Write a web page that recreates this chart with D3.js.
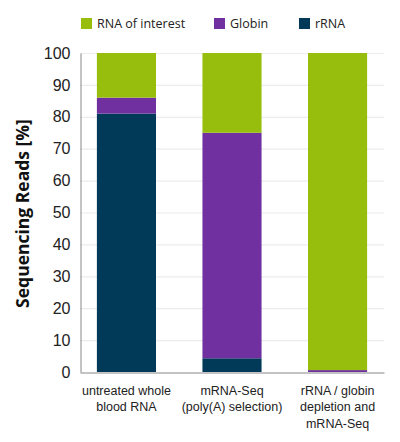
<!DOCTYPE html>
<html>
<head>
<meta charset="utf-8">
<script src="https://cdn.jsdelivr.net/npm/d3@7"></script>
<style>
  body { margin: 0; background: #fff; }
  svg { display: block; font-family: "Open Sans", "Noto Sans", sans-serif; }
</style>
</head>
<body>
<div id="viz"></div>
<script>
// chart data
const categories = [
    ["untreated whole", "blood RNA"],
    ["mRNA-Seq", "(poly(A) selection)"],
    ["rRNA / globin", "depletion and", "mRNA-Seq"]
];
const seriesNames = ["rRNA", "Globin", "RNA of interest"];
const rRNA = [81, 4.3, 0];
const globin = [5, 70.7, 0.6];
const rnaOfInterest = [14, 25, 99.4];
const yTicks = [0, 10, 20, 30, 40, 50, 60, 70, 80, 90, 100];

const colors = { "rRNA": "#003a58", "Globin": "#7030a0", "RNA of interest": "#97be0d" };
const legendOrder = ["RNA of interest", "Globin", "rRNA"];

const width = 400, height = 442;
const margin = { top: 53, right: 16, bottom: 70, left: 80 };

const svg = d3.select("#viz").append("svg")
    .attr("width", width)
    .attr("height", height);

const rows = categories.map((c, i) => ({
    key: i,
    "rRNA": rRNA[i],
    "Globin": globin[i],
    "RNA of interest": rnaOfInterest[i]
}));

const x = d3.scaleBand()
    .domain(rows.map(d => d.key))
    .range([margin.left, width - margin.right])
    .paddingInner(0.44)
    .paddingOuter(0.16);

const y = d3.scaleLinear()
    .domain([0, 100])
    .range([height - margin.bottom, margin.top]);

// grid lines
svg.append("g")
    .selectAll("line")
    .data(yTicks.slice(1))
    .join("line")
    .attr("x1", margin.left)
    .attr("x2", width - margin.right)
    .attr("y1", d => y(d) + 0.5)
    .attr("y2", d => y(d) + 0.5)
    .attr("stroke", "#ececec")
    .attr("stroke-width", 1.2);

// stacked bars
const stack = d3.stack().keys(seriesNames)(rows);

svg.append("g")
    .selectAll("g")
    .data(stack)
    .join("g")
    .attr("fill", d => colors[d.key])
    .selectAll("rect")
    .data(d => d)
    .join("rect")
    .attr("x", d => x(d.data.key))
    .attr("width", x.bandwidth())
    .attr("y", d => y(d[1]))
    .attr("height", d => y(d[0]) - y(d[1]));

// y axis
const yAxis = svg.append("g")
    .attr("transform", `translate(${margin.left + 0.5},0)`)
    .call(d3.axisLeft(y).tickValues(yTicks).tickSize(0).tickPadding(10));
yAxis.select(".domain").attr("stroke", "#888");
yAxis.selectAll("text")
    .attr("font-size", 16)
    .attr("fill", "#222");

// x axis
const xAxis = svg.append("g")
    .attr("transform", `translate(0,${y(0) + 0.5})`)
    .call(d3.axisBottom(x).tickSize(0).tickFormat(""));
xAxis.select(".domain").attr("stroke", "#888");

xAxis.selectAll(".tick text").remove();
xAxis.selectAll(".tick")
    .append("text")
    .attr("fill", "#222")
    .attr("font-size", 12.5)
    .attr("text-anchor", "middle")
    .selectAll("tspan")
    .data(d => categories[d])
    .join("tspan")
    .attr("x", 0)
    .attr("y", (d, i) => 22 + i * 16.5)
    .text(d => d);

// y title
svg.append("text")
    .attr("transform", `translate(29,${(y(0) + y(100)) / 2 + 1}) rotate(-90)`)
    .attr("text-anchor", "middle")
    .attr("font-size", 17.5)
    .attr("font-weight", "bold")
    .attr("fill", "#111")
    .text("Sequencing Reads [%]");

// legend
const legendX = [81, 214, 299];
const legend = svg.append("g")
    .selectAll("g")
    .data(legendOrder)
    .join("g")
    .attr("transform", (d, i) => `translate(${legendX[i]},18)`);
legend.append("rect")
    .attr("width", 11)
    .attr("height", 11)
    .attr("fill", d => colors[d]);
legend.append("text")
    .attr("x", 16)
    .attr("y", 10)
    .attr("font-size", 12.5)
    .attr("fill", "#222")
    .text(d => d);
</script>
</body>
</html>
